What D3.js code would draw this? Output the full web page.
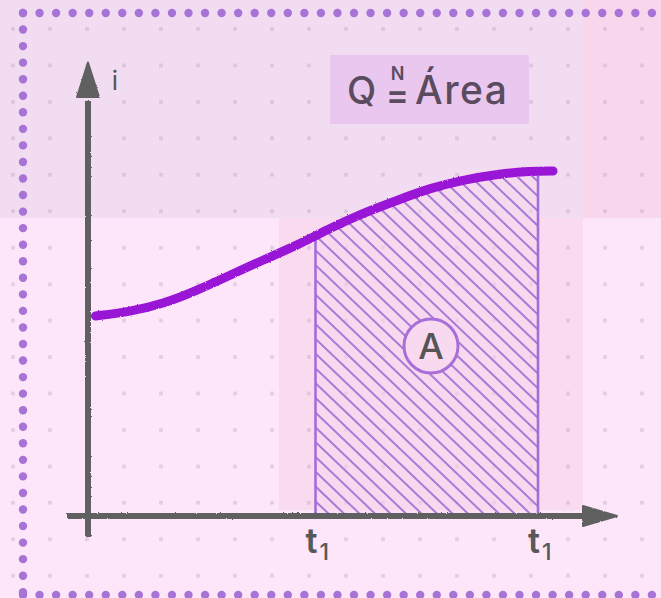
<!DOCTYPE html>
<html>
<head>
<meta charset="utf-8">
<script src="https://cdn.jsdelivr.net/npm/d3@7"></script>
<style>
  body{margin:0;background:#fde6f9;}
  svg{display:block;}
  text{font-family:Inter,"Open Sans",sans-serif;}
</style>
</head>
<body>
<svg id="chart"></svg>
<script>
// curve i(t)
var tVals=[0.15,0.8,1.5,2.2,2.85,3.5,4.2,4.85,5.5,6.2,6.85,7.5,8.2,8.85,9.3];
var iVals=[4.0,4.08,4.24,4.52,4.82,5.12,5.42,5.76,6.06,6.32,6.56,6.72,6.84,6.9,6.9];
// shaded interval
var bounds=[4.55,9.0];
var tickLabels=["t","t"];
var tickSubs=["1","1"];
var axisLabel="i";
var titleParts=["Q","N","=","Área"];
var areaLabel="A";

var w=661,h=598;
var svg=d3.select("#chart").attr("width",w).attr("height",h);
var x=d3.scaleLinear().domain([0,10]).range([88,588]);
var y=d3.scaleLinear().domain([0,10]).range([516,16]);

var defs=svg.append("defs");
var f=defs.append("filter").attr("id","rough")
  .attr("filterUnits","userSpaceOnUse")
  .attr("x",0).attr("y",0).attr("width",w).attr("height",h);
f.append("feTurbulence").attr("type","fractalNoise").attr("baseFrequency",0.8)
  .attr("numOctaves",2).attr("result","n");
f.append("feDisplacementMap").attr("in","SourceGraphic").attr("in2","n").attr("scale",2.2);

// background bands
svg.append("rect").attr("width",w).attr("height",h).attr("fill","#fde6f9");
svg.append("rect").attr("x",0).attr("y",0).attr("width",583).attr("height",218).attr("fill","#f1dcf1");
svg.append("rect").attr("x",583).attr("y",0).attr("width",w-583).attr("height",218).attr("fill","#f8d6eb");
svg.append("rect").attr("x",279).attr("y",218).attr("width",304).attr("height",292).attr("fill","#f9daee");

// dot grid
var gx=d3.range(13,w,37), gy=d3.range(29,h-10,36.45);
var grid=svg.append("g").attr("fill","#b9a3b8").attr("opacity",0.35);
gy.forEach(function(yy){
  grid.selectAll(null).data(gx).enter().append("rect")
    .attr("x",function(d){return d-2;}).attr("y",yy-2)
    .attr("width",4).attr("height",4).attr("rx",1);
});

var pts=tVals.map(function(t,k){return [t,iVals[k]];});
var line=d3.line().x(function(d){return x(d[0]);}).y(function(d){return y(d[1]);})
  .curve(d3.curveBasis);
var area=d3.area().x(function(d){return x(d[0]);}).y0(y(0)).y1(function(d){return y(d[1]);})
  .curve(d3.curveBasis);

defs.append("clipPath").attr("id","under").append("path").datum(pts).attr("d",area);
defs.append("clipPath").attr("id","span").append("rect")
  .attr("x",x(bounds[0])).attr("y",0).attr("width",x(bounds[1])-x(bounds[0])).attr("height",h);

// hatching
var hatch=svg.append("g").attr("clip-path","url(#under)")
  .append("g").attr("clip-path","url(#span)");
hatch.append("rect").attr("x",x(bounds[0])).attr("y",0)
  .attr("width",x(bounds[1])-x(bounds[0])).attr("height",y(0)).attr("fill","#f7d6ee").attr("opacity",0.5);
var rise=y(0)-150;
hatch.selectAll("line.h").data(d3.range(x(bounds[0])-rise*1.05,x(bounds[1])+10,15.5))
  .enter().append("line").attr("class","h")
  .attr("x1",function(d){return d;}).attr("y1",150)
  .attr("x2",function(d){return d+rise*1.05;}).attr("y2",y(0))
  .attr("stroke","#a97ad8").attr("stroke-width",2).attr("stroke-linecap","round");

// interval edges
svg.append("g").attr("clip-path","url(#under)").selectAll("line")
  .data(bounds).enter().append("line")
  .attr("x1",function(d){return x(d);}).attr("x2",function(d){return x(d);})
  .attr("y1",y(0)).attr("y2",100)
  .attr("stroke","#a46ed8").attr("stroke-width",2.6);

// area marker
var cx=x(6.86), cy=y(3.4);
svg.append("circle").attr("cx",cx).attr("cy",cy).attr("r",27)
  .attr("fill","#f9d9ef").attr("stroke","#a86fd9").attr("stroke-width",3);
svg.append("text").attr("x",cx).attr("y",cy+13).attr("text-anchor","middle")
  .attr("font-size",36).attr("font-weight",500).attr("fill","#555").text(areaLabel);

// curve
svg.append("path").datum(pts).attr("d",line).attr("fill","none")
  .attr("stroke","#9a12d6").attr("stroke-width",9).attr("stroke-linecap","round")
  .attr("filter","url(#rough)");

// axes
var ax=svg.append("g").attr("filter","url(#rough)").attr("fill","#616161").attr("stroke","#616161");
ax.append("line").attr("x1",x(0)).attr("x2",x(0)).attr("y1",y(-0.42)).attr("y2",y(8.3))
  .attr("stroke-width",6);
ax.append("path").attr("stroke-width",2).attr("stroke-linejoin","round")
  .attr("d","M"+x(0)+","+y(9.07)+"L"+(x(0)-11)+","+y(8.38)+"L"+(x(0)+11)+","+y(8.38)+"Z");
ax.append("line").attr("x1",x(-0.42)).attr("x2",x(9.9)).attr("y1",y(0)).attr("y2",y(0))
  .attr("stroke-width",6);
ax.append("path").attr("stroke-width",2).attr("stroke-linejoin","round")
  .attr("d","M"+x(10.58)+","+y(0)+"L"+x(9.9)+","+(y(0)-10)+"L"+x(9.9)+","+(y(0)+10)+"Z");

svg.append("text").attr("x",x(0.54)).attr("y",y(8.52)).attr("text-anchor","middle")
  .attr("font-size",26).attr("fill","#555").text(axisLabel);

// tick labels
var tl=svg.selectAll("g.tick").data(bounds).enter().append("g").attr("class","tick")
  .attr("transform",function(d){return "translate("+x(d)+","+(y(0)+37)+")";});
tl.append("text").attr("x",2).attr("text-anchor","end").attr("font-size",34)
  .attr("font-weight",600).attr("fill","#585858").text(function(d,k){return tickLabels[k];});
tl.append("text").attr("x",4).attr("y",7).attr("font-size",23)
  .attr("font-weight",500).attr("fill","#585858").text(function(d,k){return tickSubs[k];});

// title box
svg.append("rect").attr("x",330).attr("y",55).attr("width",199).attr("height",69).attr("fill","#e9c7ee");
var tc="#5a4b5e";
var title=svg.append("text").attr("x",347).attr("y",104).attr("font-size",38)
  .attr("font-weight",500).attr("fill",tc);
title.append("tspan").text(titleParts[0]);
title.append("tspan").attr("x",397.5).attr("y",80).attr("text-anchor","middle")
  .attr("font-size",18).attr("font-weight",600).text(titleParts[1]);
title.append("tspan").attr("x",397.5).attr("y",107).attr("text-anchor","middle")
  .attr("font-size",34).attr("font-weight",600).text(titleParts[2]);
title.append("tspan").attr("x",415).attr("y",104).attr("letter-spacing",1.5)
  .attr("font-size",39).text(titleParts[3]);

// dotted frame
var fr=svg.append("g").attr("fill","#a873d6");
fr.selectAll("circle.t").data(d3.range(23,w+8,16.55)).enter().append("circle").attr("class","t")
  .attr("cx",function(d){return d;}).attr("cy",13).attr("r",4.2);
fr.selectAll("circle.b").data(d3.range(23,w+8,16.55)).enter().append("circle").attr("class","b")
  .attr("cx",function(d){return d;}).attr("cy",595).attr("r",4.2);
fr.selectAll("circle.l").data(d3.range(13,596,16.55)).enter().append("circle").attr("class","l")
  .attr("cx",23).attr("cy",function(d){return d;}).attr("r",4.2);
</script>
</body>
</html>
